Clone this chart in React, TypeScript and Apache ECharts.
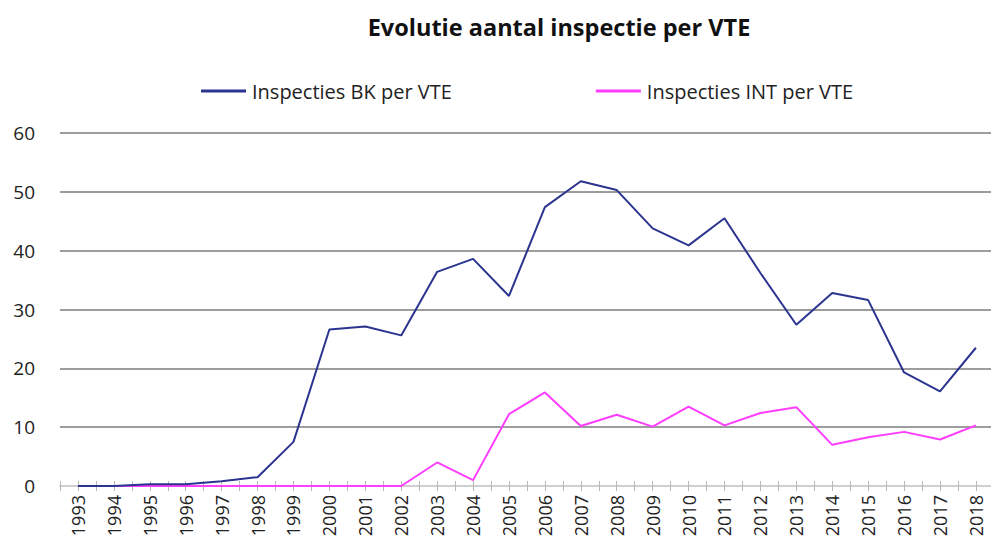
import React, { useEffect, useRef } from "react";
import * as echarts from "echarts";

const years = [1993, 1994, 1995, 1996, 1997, 1998, 1999, 2000, 2001, 2002, 2003, 2004, 2005, 2006, 2007, 2008, 2009, 2010, 2011, 2012, 2013, 2014, 2015, 2016, 2017, 2018];
const bkValues = [0, 0, 0.3, 0.3, 0.8, 1.5, 7.5, 26.6, 27.1, 25.6, 36.4, 38.6, 32.3, 47.4, 51.8, 50.3, 43.8, 40.9, 45.5, 36.2, 27.4, 32.8, 31.6, 19.3, 16.1, 23.5];
const intValues = [0, 0, 0, 0, 0, 0, 0, 0, 0, 0, 4.0, 1.0, 12.2, 15.9, 10.2, 12.1, 10.1, 13.5, 10.3, 12.4, 13.4, 7.0, 8.3, 9.2, 7.9, 10.3];
const yTicks = [0, 10, 20, 30, 40, 50, 60];

const FONT = "'Open Sans', sans-serif";

export default function App() {
  const ref = useRef<HTMLDivElement>(null);
  useEffect(() => {
    if (!ref.current) return;
    const chart = echarts.init(ref.current, null, { renderer: "svg" });
    const xBase = {
      type: "value" as const,
      min: 1992.5,
      max: 2018.42,
      interval: 0.5,
      position: "bottom" as const,
      splitLine: { show: false },
    };
    chart.setOption({
      animation: false,
      backgroundColor: "#ffffff",
      title: {
        text: "Evolutie aantal inspectie per VTE",
        left: 554,
        textAlign: "center",
        top: 10,
        textStyle: { fontFamily: FONT, fontSize: 23.5, fontWeight: "bold", color: "#111" },
      },
      legend: {
        top: 76,
        left: 196,
        itemGap: 144,
        itemWidth: 45,
        itemHeight: 3,
        icon: "rect",
        textStyle: { fontFamily: FONT, fontSize: 20, color: "#222", padding: [0, 0, 0, 1] },
        data: ["Inspecties BK per VTE", "Inspecties INT per VTE"],
      },
      grid: { left: 60, right: 0, top: 133, bottom: 65 },
      xAxis: [
        {
          ...xBase,
          axisLine: { show: true, lineStyle: { color: "#cfcfcf", width: 2 } },
          axisTick: { show: true, length: 5, lineStyle: { color: "#b8b8b8", width: 1 } },
          axisLabel: {
            rotate: 90,
            margin: 9,
            fontFamily: FONT,
            fontSize: 18,
            color: "#222",
            formatter: (v: number) => (Number.isInteger(v) && years.includes(v) ? String(v) : ""),
          },
        },
        {
          ...xBase,
          axisLine: { show: false },
          axisTick: { show: true, inside: true, length: 5, lineStyle: { color: "#b8b8b8", width: 1 } },
          axisLabel: { show: false },
        },
      ],
      yAxis: {
        type: "value",
        min: yTicks[0],
        max: yTicks[yTicks.length - 1],
        interval: 10,
        axisLine: { show: false },
        axisTick: { show: false },
        axisLabel: { fontFamily: FONT, fontSize: 19, color: "#222", margin: 25 },
        splitLine: { lineStyle: { color: "#9d9d9d", width: 2 } },
      },
      series: [
        {
          name: "Inspecties BK per VTE",
          type: "line",
          xAxisIndex: 0,
          data: years.map((y, i) => [y, bkValues[i]]),
          symbol: "none",
          color: "#2b3590",
          lineStyle: { width: 2, color: "#2b3590" },
          z: 3,
        },
        {
          name: "Inspecties INT per VTE",
          type: "line",
          xAxisIndex: 0,
          data: years.map((y, i) => [y, intValues[i]]),
          symbol: "none",
          color: "#ff3dff",
          lineStyle: { width: 2, color: "#ff3dff" },
          z: 2,
        },
      ],
    });
    return () => chart.dispose();
  }, []);
  return (
    <div
      ref={ref}
      style={{ position: "fixed", left: 0, top: 0, width: 991, height: 551, background: "#fff" }}
    />
  );
}
